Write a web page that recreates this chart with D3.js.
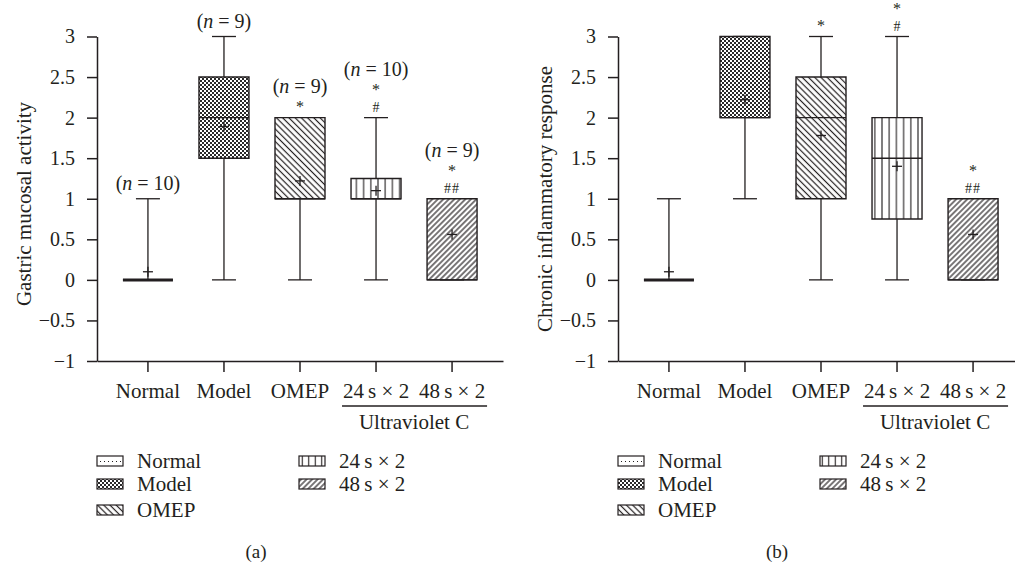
<!DOCTYPE html>
<html>
<head>
<meta charset="utf-8">
<title>Gastric mucosal activity / Chronic inflammatory response</title>
<script src="https://d3js.org/d3.v7.min.js"></script>
<style>
    body { margin: 0; background: #fff; }
    svg text { font-family: "Liberation Serif", "DejaVu Serif", serif; fill: #231f20; }
</style>
</head>
<body>
<svg id="chart" width="1015" height="569"></svg>
<script>
    // groups on the x axis
    const groups = ["Normal", "Model", "OMEP", "24\u2009s \u00d7 2", "48\u2009s \u00d7 2"];
    const yTicks = [-1, -0.5, 0, 0.5, 1, 1.5, 2, 2.5, 3];

    // (a) gastric mucosal activity
    const activityMin = [0, 0, 0, 0, 0];
    const activityQ1 = [0, 1.5, 1, 1, 0];
    const activityMedian = [0, 2, 1, 1, 0];
    const activityQ3 = [0, 2.5, 2, 1.25, 1];
    const activityMax = [1, 3, 2, 2, 1];
    const activityMean = [0.1, 1.89, 1.22, 1.1, 0.56];
    const activityN = [10, 9, 9, 10, 9];
    const activityMarks = [[], [], ["*"], ["#", "*"], ["##", "*"]];

    // (b) chronic inflammatory response
    const inflamMin = [0, 1, 0, 0, 0];
    const inflamQ1 = [0, 2, 1, 0.75, 0];
    const inflamMedian = [0, 2, 2, 1.5, 0];
    const inflamQ3 = [0, 3, 2.5, 2, 1];
    const inflamMax = [1, 3, 3, 3, 1];
    const inflamMean = [0.1, 2.22, 1.78, 1.4, 0.56];
    const inflamMarks = [[], [], ["*"], ["#", "*"], ["##", "*"]];

    const ink = "#231f20";
    const svg = d3.select("#chart");
    const defs = svg.append("defs");

    // hatch patterns
    const pModel = defs.append("pattern").attr("id", "pat-model")
        .attr("patternUnits", "userSpaceOnUse").attr("width", 4).attr("height", 4);
    pModel.append("rect").attr("width", 4).attr("height", 4).attr("fill", "#fff");
    pModel.append("rect").attr("width", 2).attr("height", 2).attr("fill", "#2a2a2a");
    pModel.append("rect").attr("x", 2).attr("y", 2).attr("width", 2).attr("height", 2).attr("fill", "#2a2a2a");

    function linePattern(id, step, angle, w) {
        const p = defs.append("pattern").attr("id", id)
            .attr("patternUnits", "userSpaceOnUse").attr("width", step).attr("height", step)
            .attr("patternTransform", `rotate(${angle})`);
        p.append("rect").attr("width", step).attr("height", step).attr("fill", "#fff");
        p.append("line").attr("x1", step / 2).attr("x2", step / 2).attr("y1", -1).attr("y2", step + 1)
            .attr("stroke", ink).attr("stroke-width", w);
    }
    linePattern("pat-omep", 4.4, -45, 1.2);
    linePattern("pat-uv24", 7.2, 0, 1.1);
    linePattern("pat-uv48", 3.9, 45, 1.2);
    linePattern("pat-uv24-small", 6.5, 0, 1.1);

    const fills = ["#fff", "url(#pat-model)", "url(#pat-omep)", "url(#pat-uv24)", "url(#pat-uv48)"];

    function drawPanel(o) {
        const g = svg.append("g");
        const x = d3.scaleBand().domain(groups).range([o.left, o.left + 406]).paddingOuter(0.17).paddingInner(0);
        const y = d3.scaleLinear().domain([-1, 3]).range([361, 36.5]);
        const cx = d => x(d.name) + x.bandwidth() / 2;

        const rows = groups.map((name, i) => ({
            name, i,
            min: o.min[i], q1: o.q1[i], med: o.median[i], q3: o.q3[i], max: o.max[i], mean: o.mean[i],
            n: o.n ? o.n[i] : null, marks: o.marks[i]
        }));

        // axes
        const yAxis = g.append("g").attr("transform", `translate(${o.left},0)`)
            .call(d3.axisLeft(y).tickValues(yTicks).tickFormat(d3.format("~g")).tickSize(10).tickSizeOuter(0).tickPadding(12));
        const xAxis = g.append("g").attr("transform", "translate(0,361)")
            .call(d3.axisBottom(x).tickSize(11).tickSizeOuter(0).tickPadding(11));
        [yAxis, xAxis].forEach(a => {
            a.select(".domain").attr("stroke", ink).attr("stroke-width", 1.5);
            a.selectAll(".tick line").attr("stroke", ink).attr("stroke-width", 1.5);
            a.selectAll("text").attr("fill", ink);
        });
        yAxis.selectAll("text").style("font-size", "20px");
        xAxis.selectAll("text").style("font-size", "21px");

        // whiskers
        g.selectAll(".whi").data(rows).join("line")
            .attr("x1", cx).attr("x2", cx).attr("y1", d => y(d.max)).attr("y2", d => y(d.min))
            .attr("stroke", ink).attr("stroke-width", 1.3);
        ["min", "max"].forEach(k => {
            g.selectAll(".cap-" + k).data(rows).join("line")
                .attr("x1", d => cx(d) - 12).attr("x2", d => cx(d) + 12)
                .attr("y1", d => y(d[k])).attr("y2", d => y(d[k]))
                .attr("stroke", ink).attr("stroke-width", 1.3);
        });

        // boxes
        g.selectAll(".box").data(rows).join("path")
            .attr("d", d => `M${cx(d) - 25},${y(d.q3)}H${cx(d) + 25}V${y(d.q1)}H${cx(d) - 25}Z`)
            .attr("fill", d => fills[d.i])
            .attr("stroke", ink)
            .attr("stroke-width", d => d.q1 === d.q3 ? 3 : 1.4);
        g.selectAll(".med").data(rows).join("line")
            .attr("x1", d => cx(d) - 25).attr("x2", d => cx(d) + 25)
            .attr("y1", d => y(d.med)).attr("y2", d => y(d.med))
            .attr("stroke", ink).attr("stroke-width", 1.4);

        // mean markers
        g.selectAll(".mean-h").data(rows).join("line")
            .attr("x1", d => cx(d) - 5).attr("x2", d => cx(d) + 5)
            .attr("y1", d => y(d.mean)).attr("y2", d => y(d.mean))
            .attr("stroke", ink).attr("stroke-width", 1.3);
        g.selectAll(".mean-v").data(rows).join("line")
            .attr("x1", cx).attr("x2", cx)
            .attr("y1", d => y(d.mean) - 5).attr("y2", d => y(d.mean) + 5)
            .attr("stroke", ink).attr("stroke-width", 1.3);

        // significance marks and n labels
        rows.forEach(d => {
            const top = y(Math.max(d.max, d.q3));
            const base = top - 6;
            const step = 16.5;
            d.marks.forEach((m, j) => {
                g.append("text").attr("x", cx(d)).attr("y", base - j * step)
                    .attr("text-anchor", "middle")
                    .style("font-size", m === "*" ? "16px" : "14px")
                    .style("letter-spacing", m === "##" ? "1px" : null)
                    .text(m);
            });
            if (d.n != null) {
                const nb = d.marks.length ? base - (d.marks.length - 1) * step - 19 : top - 9;
                const t = g.append("text").attr("x", cx(d)).attr("y", nb)
                    .attr("text-anchor", "middle").style("font-size", "20px");
                t.append("tspan").text("(");
                t.append("tspan").style("font-style", "italic").text("n");
                t.append("tspan").text(" = " + d.n + ")");
            }
        });

        // Ultraviolet C bracket
        const u0 = x(groups[3]) + x.bandwidth() / 2, u1 = x(groups[4]) + x.bandwidth() / 2;
        g.append("line").attr("x1", u0 - 34).attr("x2", u1 + 35).attr("y1", 406).attr("y2", 406)
            .attr("stroke", ink).attr("stroke-width", 1.3);
        g.append("text").attr("x", (u0 + u1) / 2).attr("y", 429).attr("text-anchor", "middle")
            .style("font-size", "21px").text("Ultraviolet C");

        // y label
        g.append("text")
            .attr("transform", `translate(${o.left - 66},${o.labelY}) rotate(-90)`)
            .attr("text-anchor", "middle").style("font-size", "21px").text(o.label);

        // legend
        const rowOff = [0, 23, 49];
        groups.forEach((name, i) => {
            const col = i < 3 ? 0 : 1;
            const lx = o.left + col * 202;
            const ly = 461 + rowOff[col ? i - 3 : i];
            const sw = g.append("g");
            sw.append("rect").attr("x", lx).attr("y", ly - 5).attr("width", 26).attr("height", 10)
                .attr("fill", i === 3 ? "url(#pat-uv24-small)" : fills[i])
                .attr("stroke", ink).attr("stroke-width", 1.2);
            if (i === 0) {
                sw.append("line").attr("x1", lx + 3).attr("x2", lx + 24).attr("y1", ly + 0.5).attr("y2", ly + 0.5)
                    .attr("stroke", ink).attr("stroke-width", 1).attr("stroke-dasharray", "1,3");
            }
            g.append("text").attr("x", lx + 40).attr("y", ly + 7).style("font-size", "21px").text(name);
        });

        g.append("text").attr("x", o.left + 159).attr("y", 558).attr("text-anchor", "middle")
            .style("font-size", "19px").text(o.tag);
    }

    drawPanel({
        left: 97, label: "Gastric mucosal activity", tag: "(a)", labelY: 204,
        min: activityMin, q1: activityQ1, median: activityMedian, q3: activityQ3,
        max: activityMax, mean: activityMean, n: activityN, marks: activityMarks
    });
    drawPanel({
        left: 618, label: "Chronic inflammatory response", tag: "(b)", labelY: 199,
        min: inflamMin, q1: inflamQ1, median: inflamMedian, q3: inflamQ3,
        max: inflamMax, mean: inflamMean, n: null, marks: inflamMarks
    });
</script>
</body>
</html>
